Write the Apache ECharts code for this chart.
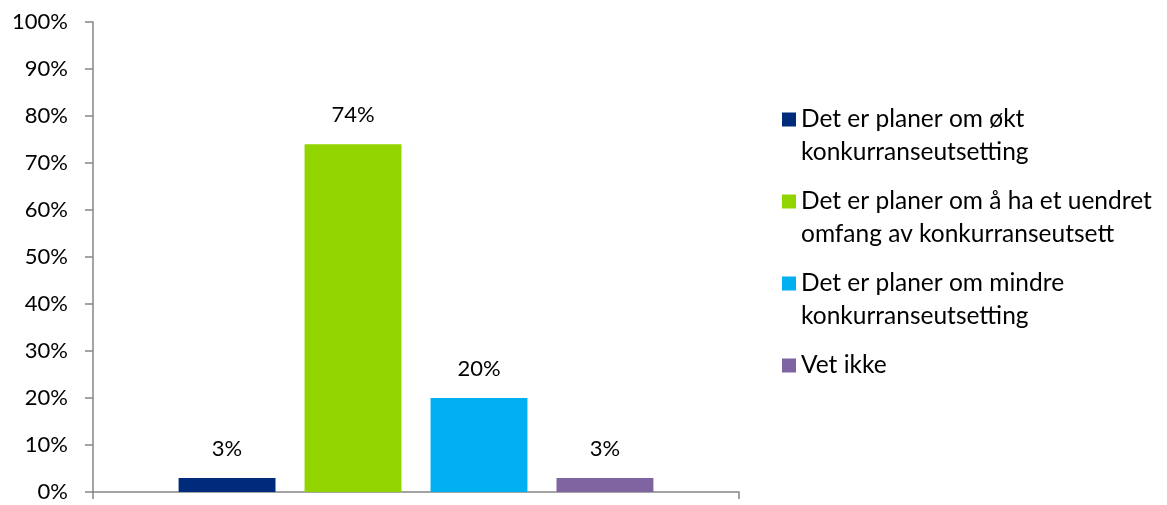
<!DOCTYPE html>
<html>
<head>
<meta charset="utf-8">
<script src="https://cdn.jsdelivr.net/npm/echarts@6/dist/echarts.min.js"></script>
<style>
  html, body { margin: 0; padding: 0; background: #fff; }
  #chart { width: 1167px; height: 505px; }
</style>
</head>
<body>
<div id="chart"></div>
<script>
const seriesNames = [
  'Det er planer om økt\nkonkurranseutsetting',
  'Det er planer om å ha et uendret\nomfang av konkurranseutsett',
  'Det er planer om mindre\nkonkurranseutsetting',
  'Vet ikke'
]
const seriesValues = [3, 74, 20, 3]
const seriesColors = ['#002A7A', '#92D400', '#00B0F0', '#8064A2']
const categories = ['']
const yTicks = [0, 100, 10]

const font = 'Lato'
const chart = echarts.init(document.getElementById('chart'))

const series = seriesNames.map((name, i) => {
  return {
    name: name,
    type: 'bar',
    barGap: '30%',
    barCategoryGap: '26.5%',
    itemStyle: { color: seriesColors[i] },
    label: {
      show: true,
      position: 'top',
      distance: 18,
      formatter: '{c}%',
      color: '#000',
      fontFamily: font,
      fontSize: 22
    },
    data: [seriesValues[i]]
  }
})

chart.setOption({
  backgroundColor: '#fff',
  animation: false,
  grid: {
    left: 93,
    right: 428,
    top: 22,
    bottom: 13
  },
  legend: {
    orient: 'vertical',
    left: 782,
    top: 103,
    padding: 0,
    itemWidth: 14,
    itemHeight: 47,
    itemGap: 16,
    // square at the top of a tall icon box, so it sits next to the first text line
    icon: 'path://M0,0H14V14H0Z M0,47H0.01V47.01H0Z',
    symbolKeepAspect: false,
    selectedMode: false,
    // every item gets two lines so all items have the same height
    formatter: name => name.indexOf('\n') >= 0 ? name : name + '\n ',
    textStyle: {
      color: '#000',
      fontFamily: font,
      fontSize: 24.5,
      lineHeight: 33
    },
    data: seriesNames
  },
  xAxis: {
    type: 'category',
    data: categories,
    axisLine: { lineStyle: { color: '#868686', width: 1.5 } },
    axisTick: { show: true, length: 7, lineStyle: { color: '#868686', width: 1.5 } },
    axisLabel: { show: false }
  },
  yAxis: {
    type: 'value',
    min: yTicks[0],
    max: yTicks[1],
    interval: yTicks[2],
    axisLine: { show: true, lineStyle: { color: '#868686', width: 1.5 } },
    axisTick: { show: true, length: 8, lineStyle: { color: '#868686', width: 1.5 } },
    splitLine: { show: false },
    axisLabel: {
      formatter: '{value}%',
      margin: 25,
      color: '#000',
      fontFamily: font,
      fontSize: 22
    }
  },
  series: series
})
</script>
</body>
</html>
